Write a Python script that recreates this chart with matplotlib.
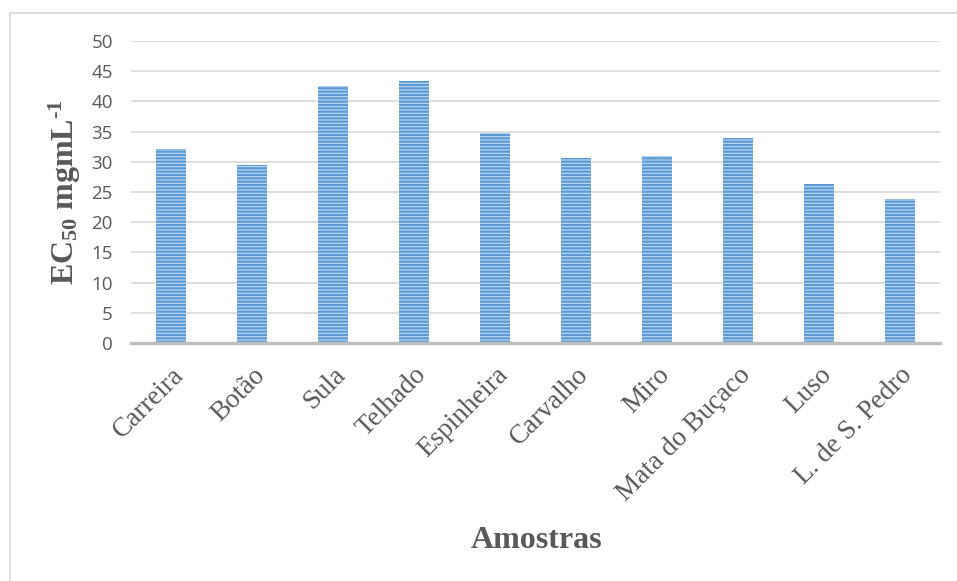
import matplotlib
matplotlib.use("Agg")
import matplotlib.pyplot as plt
from matplotlib.lines import Line2D

categories = ["Carreira", "Botão", "Sula", "Telhado", "Espinheira", "Carvalho",
              "Miro", "Mata do Buçaco", "Luso", "L. de S. Pedro"]
values = [32.1, 29.4, 42.5, 43.4, 34.8, 30.7, 31.0, 33.9, 26.4, 23.8]
yticks = [0, 5, 10, 15, 20, 25, 30, 35, 40, 45, 50]

plt.rcParams['hatch.linewidth'] = 1.6
plt.rcParams['mathtext.fontset'] = 'custom'
plt.rcParams['mathtext.rm'] = 'Liberation Serif'
plt.rcParams['mathtext.it'] = 'Liberation Serif:italic'
plt.rcParams['mathtext.bf'] = 'Liberation Serif:bold'
plt.rcParams['axes.unicode_minus'] = False

W, H = 957, 581
fig = plt.figure(figsize=(W / 100, H / 100), dpi=100)
ax = fig.add_axes([131 / W, 1 - 343 / H, (940 - 131) / W, (343 - 41) / H])

x = list(range(len(categories)))
ax.bar(x, values, width=0.37, color="#c2d8f0", edgecolor="#5b9bd5",
       hatch="-----", linewidth=0, zorder=3)

ax.set_xlim(-0.5, len(categories) - 0.5)
ax.set_ylim(0, 50)
ax.set_yticks(yticks)
ax.yaxis.grid(True, color="#d9d9d9", linewidth=1.2, zorder=0)
ax.set_axisbelow(True)
for s in ["top", "right", "left"]:
    ax.spines[s].set_visible(False)
ax.spines["bottom"].set_color("#bfbfbf")
ax.spines["bottom"].set_linewidth(2.4)
ax.spines["bottom"].set_zorder(4)

ax.tick_params(axis="y", length=0, pad=13, labelsize=13.5, labelcolor="#595959")
ax.tick_params(axis="x", length=0, pad=14)
for lab in ax.get_yticklabels():
    lab.set_fontfamily("Open Sans")

ax.set_xticks(x)
ax.set_xticklabels(categories, rotation=45, ha="right", va="top",
                   rotation_mode="anchor", fontsize=19.5, color="#595959",
                   fontfamily="Liberation Serif")

ax.set_ylabel(r"$\mathbf{EC_{50}\ mgmL^{\text{-}1}}$", fontsize=23,
              fontfamily="Liberation Serif", color="#595959", labelpad=6)

fig.text(537 / W, 1 - 540 / H, "Amostras", ha="center", va="center",
         fontsize=23, fontweight="bold", fontfamily="Liberation Serif",
         color="#595959")

# outer frame (top and left visible)
fig.add_artist(Line2D([9.5 / W, 1], [1 - 13 / H, 1 - 13 / H], color="#d9d9d9",
                      linewidth=1.2, transform=fig.transFigure))
fig.add_artist(Line2D([9.5 / W, 9.5 / W], [0, 1 - 13 / H], color="#d9d9d9",
                      linewidth=1.2, transform=fig.transFigure))

fig.savefig("out.png", dpi=100)
